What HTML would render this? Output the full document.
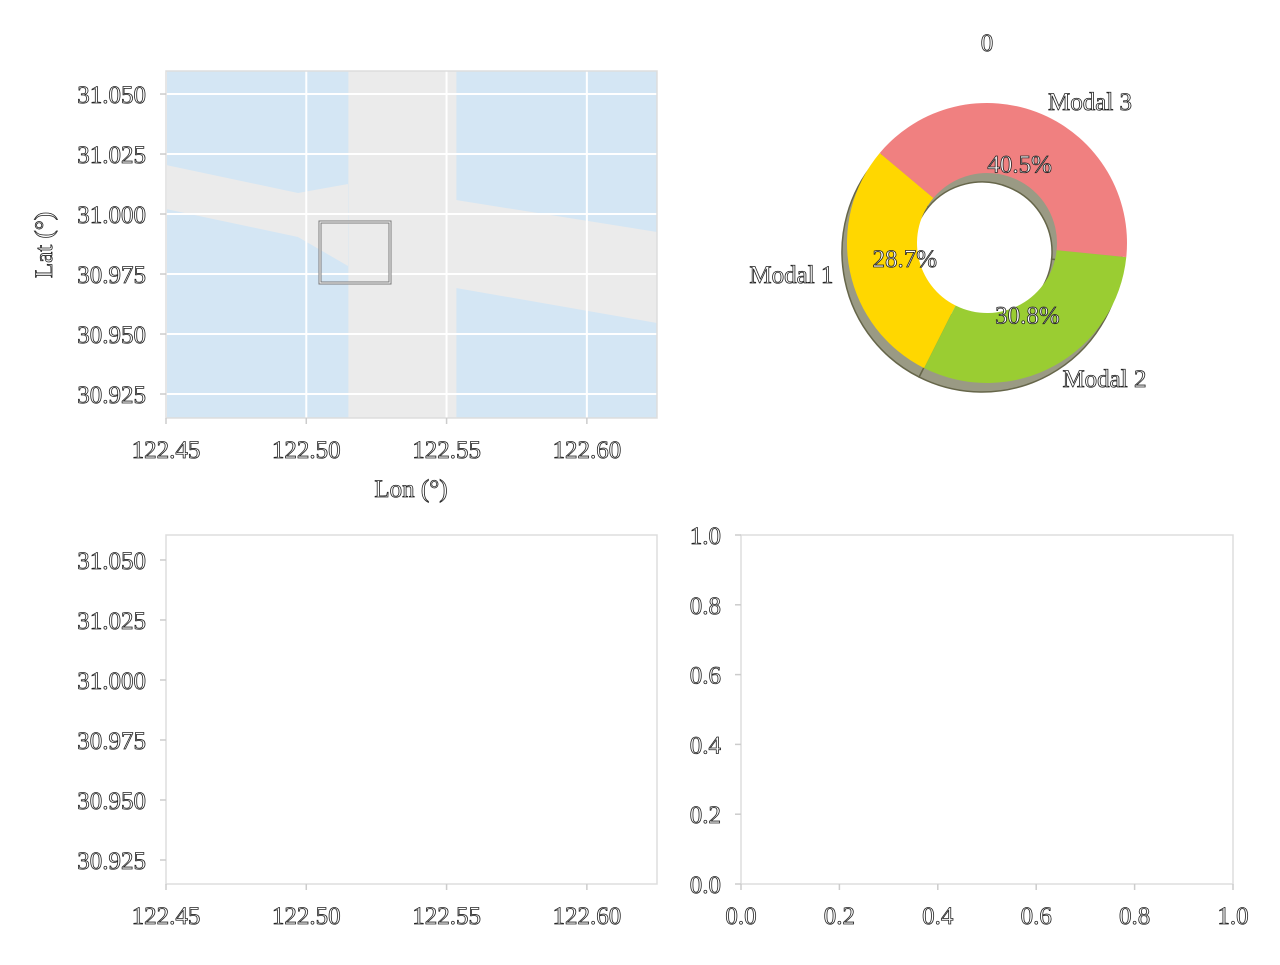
<!DOCTYPE html>
<html><head><meta charset="utf-8"><style>
body{margin:0;background:#fff;}
svg text{font-family:"Liberation Serif",serif;fill:#fff;stroke:#222;stroke-width:0.8;font-size:25px;}
</style></head><body>
<svg id="c" width="1280" height="960" xmlns="http://www.w3.org/2000/svg"></svg>
<script>
const lonTicks=[122.45,122.50,122.55,122.60];
const latTicks=[31.050,31.025,31.000,30.975,30.950,30.925];
const unitTicks=[0,0.2,0.4,0.6,0.8,1.0];
const pieLabels=['Modal 1','Modal 2','Modal 3'];
const pieValues=[28.7,30.8,40.5];
const pieColors=['#ffd700','#9acd32','#f08080'];
const lonRange=[122.45,122.625];
const latRange=[30.915,31.0596];
const latRange2=[30.915,31.0604];
const grayBand=[122.515,122.5535];
const svg=document.getElementById('c');
const NS='http://www.w3.org/2000/svg';
function el(t,a,p){const e=document.createElementNS(NS,t);for(const k in a)e.setAttribute(k,a[k]);(p||svg).appendChild(e);return e;}
function txt(s,x,y,anchor,p){const e=el('text',{x:x,y:y,'text-anchor':anchor||'middle'},p);e.textContent=s;return e;}
function mkAx(x0,y0,x1,y1,xr,yr){return{x:v=>x0+(v-xr[0])/(xr[1]-xr[0])*(x1-x0),y:v=>y1-(v-yr[0])/(yr[1]-yr[0])*(y1-y0),x0,y0,x1,y1};}
function frame(a,name){
  const r=el('rect',{x:a.x0,y:a.y0,width:a.x1-a.x0,height:a.y1-a.y0,fill:'none',stroke:'#ddd','stroke-width':1.5});
  
}
function ticks(a,xt,yt,fx,fy,name){
  xt.forEach(v=>{const x=a.x(v);el('line',{x1:x,y1:a.y1,x2:x,y2:a.y1+6,stroke:'#ccc','stroke-width':1.5});
    const t=txt(fx(v),x,a.y1+40);});
  yt.forEach(v=>{const y=a.y(v);el('line',{x1:a.x0-6,y1:y,x2:a.x0,y2:y,stroke:'#ccc','stroke-width':1.5});
    const t=txt(fy(v),a.x0-20,y+9,'end');});
}
const A=mkAx(166,71,657,418,lonRange,latRange);
const g1=el('g',{});
el('rect',{x:A.x0,y:A.y0,width:A.x1-A.x0,height:A.y1-A.y0,fill:'#d4e6f4'},g1);
el('rect',{x:A.x(grayBand[0]),y:A.y0,width:A.x(grayBand[1])-A.x(grayBand[0]),height:A.y1-A.y0,fill:'#ebebeb'},g1);
el('polygon',{points:'166,165 298,193 348,184 348,266 298,237 166,209',fill:'#ebebeb'},g1);
el('polygon',{points:'456,200 657,232 657,323 456,288',fill:'#ebebeb'},g1);
lonTicks.forEach(v=>el('line',{x1:A.x(v),y1:A.y0,x2:A.x(v),y2:A.y1,stroke:'#fff','stroke-width':2},g1));
latTicks.forEach(v=>el('line',{x1:A.x0,y1:A.y(v),x2:A.x1,y2:A.y(v),stroke:'#fff','stroke-width':2},g1));
const box=el('rect',{x:320,y:222,width:70,height:61,fill:'none',stroke:'#777','stroke-width':3},g1);
el('rect',{x:320,y:222,width:70,height:61,fill:'none',stroke:'#fff','stroke-width':1},g1);

frame(A,'map');
ticks(A,lonTicks,latTicks,v=>v.toFixed(2),v=>v.toFixed(3),'map');
let t=txt('Lon (°)',411,497);
t=el('text',{x:0,y:0,'text-anchor':'middle',transform:'translate(52,245) rotate(-90)'});t.textContent='Lat (°)';

const B2=mkAx(166,535,657,884,lonRange,latRange2);
frame(B2,'bottom-left');
ticks(B2,lonTicks,latTicks,v=>v.toFixed(2),v=>v.toFixed(3),'bottom-left');
const C=mkAx(741,535,1233,884,[0,1],[0,1]);
frame(C,'bottom-right');
ticks(C,unitTicks,unitTicks,v=>v.toFixed(1),v=>v.toFixed(1),'bottom-right');
const cx=987,cy=243,R=140,r=70,start=140;
t=txt('0',cx,51);
const total=pieValues.reduce((a,b)=>a+b,0);
function arc(ox,oy,a0,a1){const p=(rr,a)=>[ox+rr*Math.cos(a*Math.PI/180),oy-rr*Math.sin(a*Math.PI/180)];
  const L=(a1-a0)>180?1:0;const[a,b]=p(R,a0),[c,d]=p(R,a1),[e,f]=p(r,a1),[g,h]=p(r,a0);
  return `M${a},${b}A${R},${R} 0 ${L} 0 ${c},${d}L${e},${f}A${r},${r} 0 ${L} 1 ${g},${h}Z`;}
let a0=start;
const sh=el('g',{});
pieValues.forEach(v=>{const a1=a0+v/total*360;el('path',{d:arc(cx-5,cy+9,a0,a1),fill:'#9a9a84',stroke:'#66664a','stroke-width':1.5},sh);a0=a1;});
a0=start;
pieValues.forEach((v,i)=>{const a1=a0+v/total*360;
  const p=el('path',{d:arc(cx,cy,a0,a1),fill:pieColors[i]});
  
  const m=(a0+a1)/2*Math.PI/180;
  const pt=txt(v.toFixed(1)+'%',cx+84*Math.cos(m),cy-84*Math.sin(m)+7);
  
  const lx=cx+1.12*R*Math.cos(m),ly=cy-1.1*R*Math.sin(m)+9;
  const lt=txt(pieLabels[i],lx,ly,Math.cos(m)<0?'end':'start');
  
  a0=a1;});
</script>
</body></html>
